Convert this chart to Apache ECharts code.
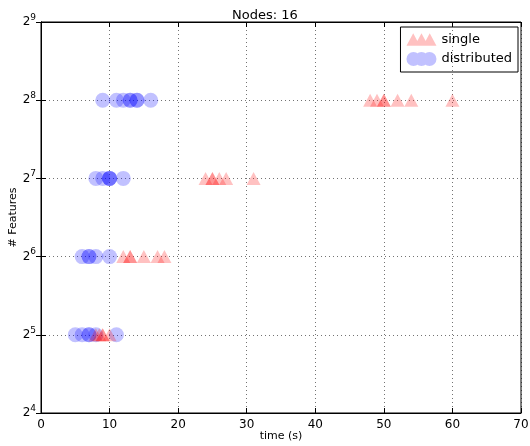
<!DOCTYPE html>
<html><head><meta charset="utf-8">
<script src="https://cdn.jsdelivr.net/npm/echarts@6/dist/echarts.min.js"></script>
<style>html,body{margin:0;padding:0;background:#fff}#c{width:530px;height:446px}</style>
</head><body><div id="c"></div>
<script>
const title = 'Nodes: 16';
const xTicks = [0,10,20,30,40,50,60,70];
const yTicks = [16,32,64,128,256,512];
// [time (s), # features]
const singleTimes = {
  32:  [8, 8.5, 9, 9, 10],
  64:  [12, 13, 13, 15, 17, 18],
  128: [24, 25, 25, 26, 27, 31],
  256: [48, 49, 50, 50, 52, 54, 60]
};
const distributedTimes = {
  32:  [5, 6, 7, 7, 8, 11],
  64:  [6, 7, 7, 8, 10],
  128: [8, 9, 10, 10, 10, 12],
  256: [9, 11, 12, 13, 13, 14, 14, 16]
};
function toPoints(obj){const out=[];Object.keys(obj).forEach(k=>obj[k].forEach(t=>out.push([t,+k])));return out;}
const singleData = toPoints(singleTimes);
const distData = toPoints(distributedTimes);

const font = 'DejaVu Sans';
const chart = echarts.init(document.getElementById('c'));
const triIcon = 'path://M0,12 L6.5,0 L13,12 Z M8,12 L14.5,0 L21,12 Z M16,12 L22.5,0 L29,12 Z';
const cirIcon = 'path://M0,7 a7,7 0 1,0 14,0 a7,7 0 1,0 -14,0 Z M8,7 a7,7 0 1,0 14,0 a7,7 0 1,0 -14,0 Z M16,7 a7,7 0 1,0 14,0 a7,7 0 1,0 -14,0 Z';
const gridLine = {show:true,lineStyle:{color:'#000',type:[1,3],width:1,opacity:0.55}};
chart.setOption({
  animation:false,
  title:{text:title,left:'center',top:4,textStyle:{fontFamily:font,fontSize:13,fontWeight:'normal',color:'#000'}},
  grid:{left:41,right:9,top:22,bottom:33,show:true,borderColor:'#000',borderWidth:1,containLabel:false,outerBoundsMode:'none'},
  legend:{
    orient:'vertical',right:12,top:27,
    borderColor:'#000',borderWidth:1,padding:[6,6,6,6],itemGap:6,
    itemWidth:30,itemHeight:14,
    textStyle:{fontFamily:font,fontSize:13,color:'#000'},
    data:[{name:'single',icon:triIcon},{name:'distributed',icon:cirIcon}]
  },
  xAxis:[{
    type:'value',min:0,max:70,interval:10,
    name:'time (s)',nameLocation:'middle',nameGap:18,nameMoveOverlap:false,
    nameTextStyle:{fontFamily:font,fontSize:11,color:'#000'},
    axisLine:{show:true,lineStyle:{color:'#000'}},
    axisTick:{show:true,inside:true,length:5,lineStyle:{color:'#000'}},
    axisLabel:{fontFamily:font,fontSize:12,color:'#000',margin:6,formatter:v=>xTicks.includes(v)?String(v):''},
    splitLine:gridLine
  },{
    type:'value',min:0,max:70,interval:10,position:'top',
    axisLine:{show:true,lineStyle:{color:'#000'}},
    axisTick:{show:true,inside:true,length:5,lineStyle:{color:'#000'}},
    axisLabel:{show:false},splitLine:{show:false}
  }],
  yAxis:[{
    type:'log',logBase:2,min:16,max:512,
    name:'# Features',nameLocation:'middle',nameGap:22,nameMoveOverlap:false,
    nameTextStyle:{fontFamily:font,fontSize:11,color:'#000'},
    axisLine:{show:true,lineStyle:{color:'#000'}},
    axisTick:{show:true,inside:true,length:5,lineStyle:{color:'#000'}},
    axisLabel:{fontFamily:font,fontSize:12,color:'#000',margin:5,
      formatter:v=>{const e=Math.round(Math.log2(v));return yTicks.includes(Math.pow(2,e))?'{b|2}{s|'+e+'}':'';},
      rich:{b:{fontFamily:font,fontSize:12,color:'#000'},s:{fontFamily:font,fontSize:9,color:'#000',padding:[0,0,9,0]}}},
    splitLine:gridLine
  },{
    type:'log',logBase:2,min:16,max:512,position:'right',
    axisLine:{show:true,lineStyle:{color:'#000'}},
    axisTick:{show:true,inside:true,length:5,lineStyle:{color:'#000'}},
    axisLabel:{show:false},splitLine:{show:false}
  }],
  series:[{
    name:'single',type:'scatter',symbol:'triangle',symbolSize:[14,13],
    itemStyle:{color:'rgba(255,0,0,0.3)'},data:singleData,z:3
  },{
    name:'distributed',type:'scatter',symbol:'circle',symbolSize:15,
    itemStyle:{color:'rgba(0,0,255,0.3)'},data:distData,z:2
  }]
});
</script></body></html>
